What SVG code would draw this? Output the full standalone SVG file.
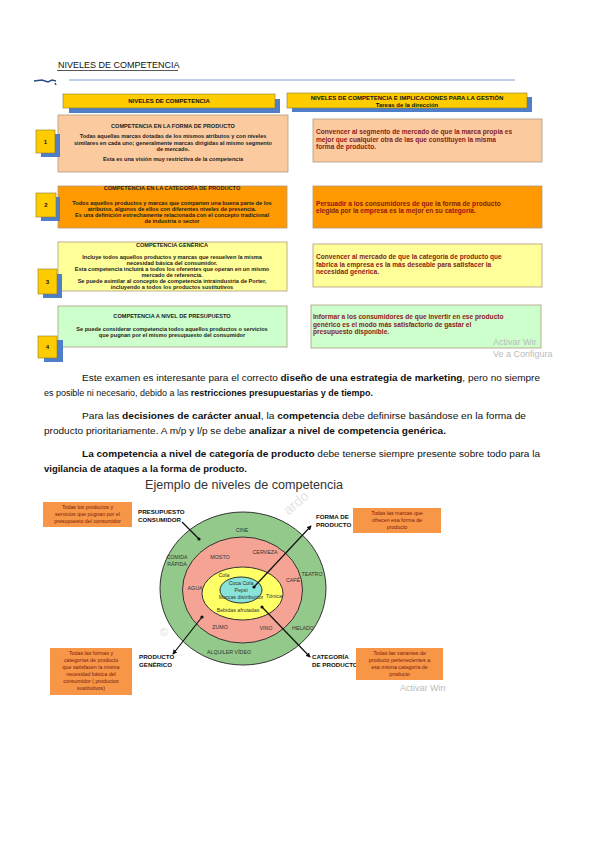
<svg xmlns="http://www.w3.org/2000/svg" width="599" height="848" viewBox="0 0 599 848">
<style>
text{font-family:"Liberation Sans",Arial,sans-serif}
.hdr{fill:#FFCC00;stroke:#8a7a30;stroke-width:0.6}
.shd{fill:#4F7FC9}
.num{fill:#FFCC00;stroke:#8a7a30;stroke-width:0.6}
.bx{stroke:#b09a80;stroke-width:0.8}
.peach{fill:#FBCB9F}
.orng{fill:#FF9900}
.yel{fill:#FFFF99}
.grn{fill:#CCFFCC}
.t{font-size:5.6px;font-weight:bold;fill:#222;text-anchor:middle}
.th{font-size:6px;font-weight:bold;fill:#111;text-anchor:middle}
.r{font-size:6.6px;font-weight:bold;fill:#8B1A1A}
.p{font-size:9.6px;fill:#111}
.b{font-weight:bold}
.lbl{font-size:5.3px;fill:#333;text-anchor:middle}
.cap{font-size:6.2px;font-weight:bold;fill:#111}
.note{fill:#F79646}
.nt{font-size:5.3px;fill:#7a1a10;text-anchor:middle}
.wm{fill:#bbb;font-size:9px}
.ln{stroke:#111;stroke-width:1.2;fill:none}
</style>
<defs>
<marker id="ah" viewBox="0 0 6 6" refX="5" refY="3" markerWidth="4" markerHeight="4" orient="auto"><path d="M0,0 L6,3 L0,6 z" fill="#111"/></marker>
</defs>
<rect width="599" height="848" fill="#fff"/>

<g id="title">
<text x="58" y="68" font-size="9" fill="#111" style="font-family:'Liberation Sans',sans-serif">NIVELES DE COMPETENCIA</text>
<line x1="57" y1="70.5" x2="178" y2="70.5" stroke="#111" stroke-width="0.7"/>
<line x1="69" y1="80" x2="515" y2="80" stroke="#7B9FD4" stroke-width="1"/>
<path d="M34,81 L42,80 L48,82 L52,80 L56,81 M55,83 L56,85" stroke="#2c4c88" stroke-width="1.5" fill="none"/>
</g>

<g id="header-left">
<rect class="shd" x="69" y="99" width="211" height="14"/>
<rect class="hdr" x="63" y="94" width="212" height="14"/>
<text class="th" x="169" y="103">NIVELES DE COMPETENCIA</text>
</g>
<g id="header-right">
<rect class="shd" x="292" y="97" width="240" height="15"/>
<rect class="hdr" x="287" y="93" width="240" height="15"/>
<text class="th" x="407" y="99.5">NIVELES DE COMPETENCIA E IMPLICACIONES PARA LA GESTIÓN</text>
<text class="th" x="407" y="106.5">Tareas de la dirección</text>
</g>

<g id="level1">
<rect class="bx peach" x="58" y="115" width="230" height="57"/>
<text class="t" x="173" y="128">COMPETENCIA EN LA FORMA DE PRODUCTO</text>
<text class="t" x="173" y="138">Todas aquellas marcas dotadas de los mismos atributos y con niveles</text>
<text class="t" x="173" y="144.5">similares en cada uno; generalmente marcas dirigidas al mismo segmento</text>
<text class="t" x="173" y="151">de mercado.</text>
<text class="t" x="173" y="160.5">Esta es una visión muy restrictiva de la competencia</text>
<rect class="shd" x="41" y="134" width="19" height="23"/>
<rect class="num" x="36" y="130" width="19" height="23"/>
<text class="th" x="45.5" y="143.5">1</text>
</g>

<g id="level2">
<rect class="bx orng" x="58" y="186" width="229" height="42"/>
<text class="t" x="172" y="190">COMPETENCIA EN LA CATEGORÍA DE PRODUCTO</text>
<text class="t" x="172" y="205">Todos aquellos productos y marcas que comparten una buena parte de los</text>
<text class="t" x="172" y="211">atributos, algunos de ellos con diferentes niveles de presencia.</text>
<text class="t" x="172" y="217">Es una definición estrechamente relacionada con el concepto tradicional</text>
<text class="t" x="172" y="223">de industria o sector</text>
<rect class="shd" x="41" y="197" width="19" height="24"/>
<rect class="num" x="36" y="193" width="20" height="24"/>
<text class="th" x="46" y="207">2</text>
</g>

<g id="level3">
<rect class="bx yel" x="58" y="242" width="229" height="49"/>
<text class="t" x="172" y="247">COMPETENCIA GENÉRICA</text>
<text class="t" x="172" y="259">Incluye todos aquellos productos y marcas que resuelven la misma</text>
<text class="t" x="172" y="265">necesidad básica del consumidor.</text>
<text class="t" x="172" y="271">Esta competencia incluirá a todos los oferentes que operan en un mismo</text>
<text class="t" x="172" y="277">mercado de referencia.</text>
<text class="t" x="172" y="283">Se puede asimilar al concepto de competencia intraindustria de Porter,</text>
<text class="t" x="172" y="289">incluyendo a todos los productos sustitutivos</text>
<rect class="shd" x="43" y="274" width="19" height="24"/>
<rect class="num" x="38" y="269" width="19" height="25"/>
<text class="th" x="47.5" y="284">3</text>
</g>

<g id="level4">
<rect class="bx grn" x="58" y="306" width="229" height="41"/>
<text class="t" x="172" y="318">COMPETENCIA A NIVEL DE PRESUPUESTO</text>
<text class="t" x="172" y="331">Se puede considerar competencia todos aquellos productos o servicios</text>
<text class="t" x="172" y="337">que pugnan por el mismo presupuesto del consumidor</text>
<rect class="shd" x="44" y="340" width="19" height="22"/>
<rect class="num" x="38" y="336" width="19" height="22"/>
<text class="th" x="47.5" y="349">4</text>
</g>

<g id="task1">
<rect class="bx peach" x="313" y="119" width="229" height="43"/>
<text class="r" x="316" y="134">Convencer al segmento de mercado de que la marca propia es</text>
<text class="r" x="316" y="141.5">mejor que cualquier otra de las que constituyen la misma</text>
<text class="r" x="316" y="149">forma de producto.</text>
</g>
<g id="task2">
<rect class="bx orng" x="313" y="186" width="229" height="42"/>
<text class="r" x="316" y="205.5">Persuadir a los consumidores de que la forma de producto</text>
<text class="r" x="316" y="213">elegida por la empresa es la mejor en su categoría.</text>
</g>
<g id="task3">
<rect class="bx yel" x="313" y="244" width="229" height="43"/>
<text class="r" x="316" y="259">Convencer al mercado de que la categoría de producto que</text>
<text class="r" x="316" y="266.5">fabrica la empresa es la más deseable para satisfacer la</text>
<text class="r" x="316" y="274">necesidad genérica.</text>
</g>
<g id="task4">
<rect class="bx grn" x="311" y="305" width="230" height="43"/>
<text class="r" x="313" y="319">Informar a los consumidores de que invertir en ese producto</text>
<text class="r" x="313" y="326.5">genérico es el modo más satisfactorio de gastar el</text>
<text class="r" x="313" y="334">presupuesto disponible.</text>
</g>
<text class="wm" x="493" y="345" font-size="9.5">Activar Wir</text>
<text class="wm" x="493" y="357" font-size="6.5">Ve a Configura</text>

<g id="paragraphs">
<text class="p" x="82" y="381" textLength="458" lengthAdjust="spacingAndGlyphs">Este examen es interesante para el correcto <tspan class="b">diseño de una estrategia de marketing</tspan>, pero no siempre</text>
<text class="p" x="44" y="396" textLength="329" lengthAdjust="spacingAndGlyphs">es posible ni necesario, debido a las <tspan class="b">restricciones presupuestarias y de tiempo.</tspan></text>
<text class="p" x="82" y="419" textLength="444" lengthAdjust="spacingAndGlyphs">Para las <tspan class="b">decisiones de carácter anual</tspan>, la <tspan class="b">competencia</tspan> debe definirse basándose en la forma de</text>
<text class="p" x="44" y="434" textLength="402" lengthAdjust="spacingAndGlyphs">producto prioritariamente. A m/p y l/p se debe <tspan class="b">analizar a nivel de competencia genérica.</tspan></text>
<text class="p" x="82" y="457" textLength="458" lengthAdjust="spacingAndGlyphs"><tspan class="b">La competencia a nivel de categoría de producto</tspan> debe tenerse siempre presente sobre todo para la</text>
<text class="p" x="44" y="472" textLength="203" lengthAdjust="spacingAndGlyphs"><tspan class="b">vigilancia de ataques a la forma de producto.</tspan></text>
</g>

<g id="example">
<text x="145" y="489" font-size="12.5" fill="#333" textLength="198" lengthAdjust="spacingAndGlyphs">Ejemplo de niveles de competencia</text>
<text x="282" y="512" font-size="14" fill="#e4e4e4" transform="rotate(-40 290 505)">ardo</text>
<text x="160" y="636" font-size="11" fill="#ddd">©</text>
<g id="ring-presupuesto">
<ellipse cx="243" cy="588.5" rx="83" ry="76.5" fill="#93C98A" stroke="#333" stroke-width="1"/>
<text class="lbl" x="242" y="532">CINE</text>
<text class="lbl" x="177" y="559">COMIDA</text>
<text class="lbl" x="177" y="566">RÁPIDA</text>
<text class="lbl" x="312" y="576">TEATRO</text>
<text class="lbl" x="303" y="630">HELADO</text>
<text class="lbl" x="229" y="654">ALQUILER VÍDEO</text>
</g>
<g id="ring-generico">
<ellipse cx="242.5" cy="590" rx="60" ry="53" fill="#F4A395" stroke="#333" stroke-width="1"/>
<text class="lbl" x="220" y="559">MOSTO</text>
<text class="lbl" x="265" y="554">CERVEZA</text>
<text class="lbl" x="195" y="590">AGUA</text>
<text class="lbl" x="293" y="582">CAFÉ</text>
<text class="lbl" x="220" y="629">ZUMO</text>
<text class="lbl" x="266" y="630">VINO</text>
</g>
<g id="ring-categoria">
<ellipse cx="242.5" cy="593.5" rx="40.5" ry="26.5" fill="#FFFF66" stroke="#333" stroke-width="1"/>
<text class="lbl" x="224" y="577">Cola</text>
<text class="lbl" x="274" y="598">Tónica</text>
<text class="lbl" x="238" y="612">Bebidas afrutadas</text>
</g>
<g id="ring-forma">
<ellipse cx="241" cy="590" rx="21" ry="13" fill="#88E3D8" stroke="#333" stroke-width="1"/>
<text class="lbl" x="241" y="585">Coca Cola</text>
<text class="lbl" x="241" y="592">Pepsi</text>
<text class="lbl" x="241" y="599" font-size="4.8">Marcas distribuidor</text>
</g>

<g id="connectors">
<line class="ln" x1="182" y1="522" x2="199" y2="539"/>
<circle cx="199" cy="539" r="1.6" fill="#111"/>
<line class="ln" x1="254" y1="587" x2="311" y2="526" marker-end="url(#ah)"/>
<circle cx="254" cy="587" r="1.6" fill="#111"/>
<line class="ln" x1="262" y1="607" x2="310" y2="657" marker-end="url(#ah)"/>
<circle cx="262" cy="607" r="1.6" fill="#111"/>
<line class="ln" x1="202" y1="617" x2="173" y2="654" marker-end="url(#ah)"/>
<circle cx="202" cy="617" r="1.6" fill="#111"/>
</g>

<g id="cap-presupuesto">
<text class="cap" x="138" y="514">PRESUPUESTO</text>
<text class="cap" x="138" y="522">CONSUMIDOR</text>
</g>
<g id="cap-forma">
<text class="cap" x="316" y="519">FORMA DE</text>
<text class="cap" x="316" y="527">PRODUCTO</text>
</g>
<g id="cap-categoria">
<text class="cap" x="312" y="659">CATEGORÍA</text>
<text class="cap" x="312" y="667">DE PRODUCTO</text>
</g>
<g id="cap-generico">
<text class="cap" x="139" y="659">PRODUCTO</text>
<text class="cap" x="139" y="667">GENÉRICO</text>
</g>

<g id="note-presupuesto">
<rect class="note" x="43" y="502" width="89" height="25"/>
<text class="nt" x="87.5" y="509">Todas los productos y</text>
<text class="nt" x="87.5" y="516">servicios que pugnan por el</text>
<text class="nt" x="87.5" y="523">presupuesto del consumidor</text>
</g>
<g id="note-forma">
<rect class="note" x="353" y="508" width="88" height="25"/>
<text class="nt" x="397" y="515">Todas las marcas que</text>
<text class="nt" x="397" y="522">ofrecen esa forma de</text>
<text class="nt" x="397" y="529">producto</text>
</g>
<g id="note-generico">
<rect class="note" x="50" y="648" width="82" height="47"/>
<text class="nt" x="91" y="655">Todas las formas y</text>
<text class="nt" x="91" y="662">categorías de producto</text>
<text class="nt" x="91" y="669">que satisfacen la misma</text>
<text class="nt" x="91" y="676">necesidad básica del</text>
<text class="nt" x="91" y="683">consumidor ( productos</text>
<text class="nt" x="91" y="690">sustitutivos)</text>
</g>
<g id="note-categoria">
<rect class="note" x="356" y="648" width="87" height="32"/>
<text class="nt" x="399.5" y="655">Todas las variantes de</text>
<text class="nt" x="399.5" y="662">producto pertenecientes a</text>
<text class="nt" x="399.5" y="669">esa misma categoría de</text>
<text class="nt" x="399.5" y="676">producto</text>
</g>
<text class="wm" x="400" y="691" font-size="8">Activar Win</text>
</g>
</svg>
